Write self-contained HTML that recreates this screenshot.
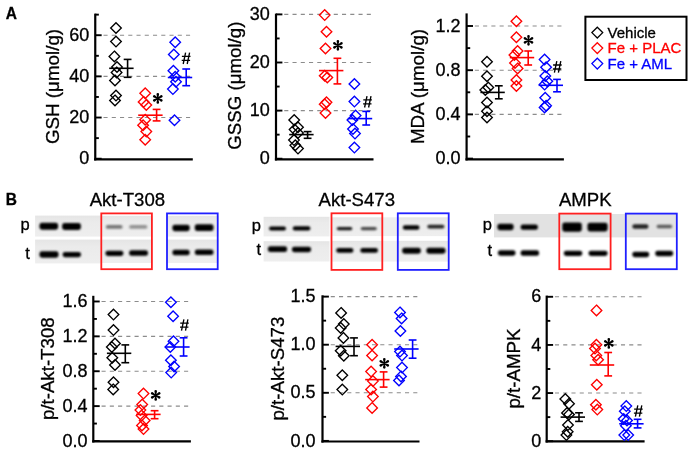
<!DOCTYPE html><html><head><meta charset="utf-8"><style>html,body{margin:0;padding:0;background:#fff;overflow:hidden}svg{display:block;filter:blur(0.35px)}text{stroke-width:0.3px}</style></head><body>
<svg width="689" height="449" viewBox="0 0 689 449" font-family='"Liberation Sans", sans-serif'>
<defs><filter id="bl" x="-20%" y="-80%" width="140%" height="260%"><feGaussianBlur stdDeviation="0.85"/></filter><linearGradient id="pg" x1="0" y1="0" x2="0" y2="1"><stop offset="0" stop-color="#e5e5e5"/><stop offset="0.3" stop-color="#ebebeb"/><stop offset="1" stop-color="#eeeeee"/></linearGradient></defs>
<rect width="689" height="449" fill="#fff"/>
<text x="0" y="0" font-size="15.5" font-weight="bold" stroke="#000" transform="translate(5.7 19.1) scale(1 1.1)">A</text>
<text x="0" y="0" font-size="15.5" font-weight="bold" stroke="#000" transform="translate(5.8 204.5) scale(1 1.1)">B</text>
<line x1="95.25" y1="117.54" x2="192.8" y2="117.54" stroke="#8c8c8c" stroke-width="1.1" stroke-dasharray="4.1 4.15"/>
<line x1="95.25" y1="76.38" x2="192.8" y2="76.38" stroke="#8c8c8c" stroke-width="1.1" stroke-dasharray="4.1 4.15"/>
<line x1="95.25" y1="35.22" x2="192.8" y2="35.22" stroke="#8c8c8c" stroke-width="1.1" stroke-dasharray="4.1 4.15"/>
<line x1="95.25" y1="13.6" x2="95.25" y2="160.45" stroke="#000" stroke-width="2.2"/>
<line x1="94.15" y1="159.35" x2="192.8" y2="159.35" stroke="#000" stroke-width="2.2"/>
<line x1="95.25" y1="158.7" x2="101.65" y2="158.7" stroke="#000" stroke-width="1.9"/>
<line x1="95.25" y1="117.54" x2="101.65" y2="117.54" stroke="#000" stroke-width="1.9"/>
<line x1="95.25" y1="76.38" x2="101.65" y2="76.38" stroke="#000" stroke-width="1.9"/>
<line x1="95.25" y1="35.22" x2="101.65" y2="35.22" stroke="#000" stroke-width="1.9"/>
<line x1="95.25" y1="138.12" x2="98.85" y2="138.12" stroke="#000" stroke-width="1.9"/>
<line x1="95.25" y1="96.96" x2="98.85" y2="96.96" stroke="#000" stroke-width="1.9"/>
<line x1="95.25" y1="55.8" x2="98.85" y2="55.8" stroke="#000" stroke-width="1.9"/>
<line x1="95.25" y1="14.64" x2="98.85" y2="14.64" stroke="#000" stroke-width="1.9"/>
<text x="89.35" y="164.3" font-size="18" text-anchor="end" fill="#000" stroke="#000" font-weight="normal" >0</text>
<text x="89.35" y="123.14" font-size="18" text-anchor="end" fill="#000" stroke="#000" font-weight="normal" >20</text>
<text x="89.35" y="81.98" font-size="18" text-anchor="end" fill="#000" stroke="#000" font-weight="normal" >40</text>
<text x="89.35" y="40.82" font-size="18" text-anchor="end" fill="#000" stroke="#000" font-weight="normal" >60</text>
<text x="0" y="0" font-size="18.8" text-anchor="middle" stroke="#000" transform="translate(58.9 86.5) rotate(-90)">GSH (μmol/g)</text>
<path d="M116 22.7L121.3 28L116 33.3L110.7 28Z" fill="none" stroke="#000" stroke-width="1.35"/>
<path d="M116 36.3L121.3 41.6L116 46.9L110.7 41.6Z" fill="none" stroke="#000" stroke-width="1.35"/>
<path d="M114.4 51.1L119.7 56.4L114.4 61.7L109.1 56.4Z" fill="none" stroke="#000" stroke-width="1.35"/>
<path d="M117 61.7L122.3 67L117 72.3L111.7 67Z" fill="none" stroke="#000" stroke-width="1.35"/>
<path d="M116.6 67.1L121.9 72.4L116.6 77.7L111.3 72.4Z" fill="none" stroke="#000" stroke-width="1.35"/>
<path d="M115 75.1L120.3 80.4L115 85.7L109.7 80.4Z" fill="none" stroke="#000" stroke-width="1.35"/>
<path d="M116 90.3L121.3 95.6L116 100.9L110.7 95.6Z" fill="none" stroke="#000" stroke-width="1.35"/>
<path d="M115 95.1L120.3 100.4L115 105.7L109.7 100.4Z" fill="none" stroke="#000" stroke-width="1.35"/>
<line x1="109.2" y1="68.3" x2="133.6" y2="68.3" stroke="#000" stroke-width="1.6"/>
<line x1="127.6" y1="59.4" x2="127.6" y2="77.3" stroke="#000" stroke-width="1.6"/>
<line x1="123.7" y1="59.4" x2="131.5" y2="59.4" stroke="#000" stroke-width="1.6"/>
<line x1="123.7" y1="77.3" x2="131.5" y2="77.3" stroke="#000" stroke-width="1.6"/>
<path d="M145.2 88L150.5 93.3L145.2 98.6L139.9 93.3Z" fill="none" stroke="#ff0000" stroke-width="1.35"/>
<path d="M143.6 96.6L148.9 101.9L143.6 107.2L138.3 101.9Z" fill="none" stroke="#ff0000" stroke-width="1.35"/>
<path d="M146.3 99.7L151.6 105L146.3 110.3L141 105Z" fill="none" stroke="#ff0000" stroke-width="1.35"/>
<path d="M145.2 114.5L150.5 119.8L145.2 125.1L139.9 119.8Z" fill="none" stroke="#ff0000" stroke-width="1.35"/>
<path d="M143.1 120L148.4 125.3L143.1 130.6L137.8 125.3Z" fill="none" stroke="#ff0000" stroke-width="1.35"/>
<path d="M146.3 126.3L151.6 131.6L146.3 136.9L141 131.6Z" fill="none" stroke="#ff0000" stroke-width="1.35"/>
<path d="M145.2 134.4L150.5 139.7L145.2 145L139.9 139.7Z" fill="none" stroke="#ff0000" stroke-width="1.35"/>
<line x1="138.2" y1="115.2" x2="162.6" y2="115.2" stroke="#ff0000" stroke-width="1.6"/>
<line x1="156.6" y1="109.4" x2="156.6" y2="120.9" stroke="#ff0000" stroke-width="1.6"/>
<line x1="152.7" y1="109.4" x2="160.5" y2="109.4" stroke="#ff0000" stroke-width="1.6"/>
<line x1="152.7" y1="120.9" x2="160.5" y2="120.9" stroke="#ff0000" stroke-width="1.6"/>
<path d="M175.2 37L180.5 42.3L175.2 47.6L169.9 42.3Z" fill="none" stroke="#0000ff" stroke-width="1.35"/>
<path d="M173.8 49.2L179.1 54.5L173.8 59.8L168.5 54.5Z" fill="none" stroke="#0000ff" stroke-width="1.35"/>
<path d="M173.4 65.5L178.7 70.8L173.4 76.1L168.1 70.8Z" fill="none" stroke="#0000ff" stroke-width="1.35"/>
<path d="M175.2 71.5L180.5 76.8L175.2 82.1L169.9 76.8Z" fill="none" stroke="#0000ff" stroke-width="1.35"/>
<path d="M176 76.4L181.3 81.7L176 87L170.7 81.7Z" fill="none" stroke="#0000ff" stroke-width="1.35"/>
<path d="M172.9 83.8L178.2 89.1L172.9 94.4L167.6 89.1Z" fill="none" stroke="#0000ff" stroke-width="1.35"/>
<path d="M174.5 115L179.8 120.3L174.5 125.6L169.2 120.3Z" fill="none" stroke="#0000ff" stroke-width="1.35"/>
<line x1="167.8" y1="77.5" x2="192.2" y2="77.5" stroke="#0000ff" stroke-width="1.6"/>
<line x1="186.2" y1="69" x2="186.2" y2="85.7" stroke="#0000ff" stroke-width="1.6"/>
<line x1="182.3" y1="69" x2="190.1" y2="69" stroke="#0000ff" stroke-width="1.6"/>
<line x1="182.3" y1="85.7" x2="190.1" y2="85.7" stroke="#0000ff" stroke-width="1.6"/>
<path d="M158.25 98.4L159.1 94.35A1.3 1.3 0 1 0 156.5 94.35L157.35 98.4ZM158.03 98.79L161.96 97.5A1.3 1.3 0 1 0 160.66 95.25L157.58 98.01ZM157.58 98.79L160.66 101.55A1.3 1.3 0 1 0 161.96 99.3L158.03 98.01ZM157.35 98.4L156.5 102.45A1.3 1.3 0 1 0 159.1 102.45L158.25 98.4ZM158.03 98.01L154.94 95.25A1.3 1.3 0 1 0 153.64 97.5L157.58 98.79ZM157.58 98.01L153.64 99.3A1.3 1.3 0 1 0 154.94 101.55L158.03 98.79Z" fill="#000"/>
<path d="M185.6 52.6L183.2 64M189.6 52.6L187.2 64M181.9 56.4L190.5 56.4M181.7 60.4L190.1 60.4" stroke="#000" stroke-width="1.35" fill="none"/>
<line x1="276" y1="110.6" x2="373.5" y2="110.6" stroke="#8c8c8c" stroke-width="1.1" stroke-dasharray="4.1 4.15"/>
<line x1="276" y1="62.5" x2="373.5" y2="62.5" stroke="#8c8c8c" stroke-width="1.1" stroke-dasharray="4.1 4.15"/>
<line x1="276" y1="14.4" x2="373.5" y2="14.4" stroke="#8c8c8c" stroke-width="1.1" stroke-dasharray="4.1 4.15"/>
<line x1="276" y1="13.6" x2="276" y2="160.45" stroke="#000" stroke-width="2.2"/>
<line x1="274.9" y1="159.35" x2="373.5" y2="159.35" stroke="#000" stroke-width="2.2"/>
<line x1="276" y1="158.7" x2="282.4" y2="158.7" stroke="#000" stroke-width="1.9"/>
<line x1="276" y1="110.6" x2="282.4" y2="110.6" stroke="#000" stroke-width="1.9"/>
<line x1="276" y1="62.5" x2="282.4" y2="62.5" stroke="#000" stroke-width="1.9"/>
<line x1="276" y1="14.4" x2="282.4" y2="14.4" stroke="#000" stroke-width="1.9"/>
<line x1="276" y1="134.65" x2="279.6" y2="134.65" stroke="#000" stroke-width="1.9"/>
<line x1="276" y1="86.55" x2="279.6" y2="86.55" stroke="#000" stroke-width="1.9"/>
<line x1="276" y1="38.45" x2="279.6" y2="38.45" stroke="#000" stroke-width="1.9"/>
<text x="269.7" y="164.3" font-size="18" text-anchor="end" fill="#000" stroke="#000" font-weight="normal" >0</text>
<text x="269.7" y="116.2" font-size="18" text-anchor="end" fill="#000" stroke="#000" font-weight="normal" >10</text>
<text x="269.7" y="68.1" font-size="18" text-anchor="end" fill="#000" stroke="#000" font-weight="normal" >20</text>
<text x="269.7" y="20" font-size="18" text-anchor="end" fill="#000" stroke="#000" font-weight="normal" >30</text>
<text x="0" y="0" font-size="18.7" text-anchor="middle" stroke="#000" transform="translate(240.8 85.7) rotate(-90)">GSSG (μmol/g)</text>
<path d="M294.2 114.7L299.5 120L294.2 125.3L288.9 120Z" fill="none" stroke="#000" stroke-width="1.35"/>
<path d="M298 122L303.3 127.3L298 132.6L292.7 127.3Z" fill="none" stroke="#000" stroke-width="1.35"/>
<path d="M294.6 124.3L299.9 129.6L294.6 134.9L289.3 129.6Z" fill="none" stroke="#000" stroke-width="1.35"/>
<path d="M298 127.7L303.3 133L298 138.3L292.7 133Z" fill="none" stroke="#000" stroke-width="1.35"/>
<path d="M294 134.8L299.3 140.1L294 145.4L288.7 140.1Z" fill="none" stroke="#000" stroke-width="1.35"/>
<path d="M295.3 140L300.6 145.3L295.3 150.6L290 145.3Z" fill="none" stroke="#000" stroke-width="1.35"/>
<path d="M298 143.3L303.3 148.6L298 153.9L292.7 148.6Z" fill="none" stroke="#000" stroke-width="1.35"/>
<line x1="289.2" y1="134.6" x2="313.6" y2="134.6" stroke="#000" stroke-width="1.6"/>
<line x1="307.6" y1="131.6" x2="307.6" y2="138.3" stroke="#000" stroke-width="1.6"/>
<line x1="303.7" y1="131.6" x2="311.5" y2="131.6" stroke="#000" stroke-width="1.6"/>
<line x1="303.7" y1="138.3" x2="311.5" y2="138.3" stroke="#000" stroke-width="1.6"/>
<path d="M324.7 9.8L330 15.1L324.7 20.4L319.4 15.1Z" fill="none" stroke="#ff0000" stroke-width="1.35"/>
<path d="M326.5 26.4L331.8 31.7L326.5 37L321.2 31.7Z" fill="none" stroke="#ff0000" stroke-width="1.35"/>
<path d="M325.5 43.2L330.8 48.5L325.5 53.8L320.2 48.5Z" fill="none" stroke="#ff0000" stroke-width="1.35"/>
<path d="M324.7 70.4L330 75.7L324.7 81L319.4 75.7Z" fill="none" stroke="#ff0000" stroke-width="1.35"/>
<path d="M327.3 72.2L332.6 77.5L327.3 82.8L322 77.5Z" fill="none" stroke="#ff0000" stroke-width="1.35"/>
<path d="M326.5 97L331.8 102.3L326.5 107.6L321.2 102.3Z" fill="none" stroke="#ff0000" stroke-width="1.35"/>
<path d="M324.7 98.9L330 104.2L324.7 109.5L319.4 104.2Z" fill="none" stroke="#ff0000" stroke-width="1.35"/>
<path d="M325.5 107.7L330.8 113L325.5 118.3L320.2 113Z" fill="none" stroke="#ff0000" stroke-width="1.35"/>
<line x1="319" y1="70.6" x2="343.4" y2="70.6" stroke="#ff0000" stroke-width="1.6"/>
<line x1="337.4" y1="58.3" x2="337.4" y2="83.9" stroke="#ff0000" stroke-width="1.6"/>
<line x1="333.5" y1="58.3" x2="341.3" y2="58.3" stroke="#ff0000" stroke-width="1.6"/>
<line x1="333.5" y1="83.9" x2="341.3" y2="83.9" stroke="#ff0000" stroke-width="1.6"/>
<path d="M354.4 78.7L359.7 84L354.4 89.3L349.1 84Z" fill="none" stroke="#0000ff" stroke-width="1.35"/>
<path d="M354.4 96.3L359.7 101.6L354.4 106.9L349.1 101.6Z" fill="none" stroke="#0000ff" stroke-width="1.35"/>
<path d="M355.6 110.3L360.9 115.6L355.6 120.9L350.3 115.6Z" fill="none" stroke="#0000ff" stroke-width="1.35"/>
<path d="M352.4 114.7L357.7 120L352.4 125.3L347.1 120Z" fill="none" stroke="#0000ff" stroke-width="1.35"/>
<path d="M353 123.7L358.3 129L353 134.3L347.7 129Z" fill="none" stroke="#0000ff" stroke-width="1.35"/>
<path d="M355 128.3L360.3 133.6L355 138.9L349.7 133.6Z" fill="none" stroke="#0000ff" stroke-width="1.35"/>
<path d="M354.4 142.3L359.7 147.6L354.4 152.9L349.1 147.6Z" fill="none" stroke="#0000ff" stroke-width="1.35"/>
<line x1="347.8" y1="118.6" x2="372.2" y2="118.6" stroke="#0000ff" stroke-width="1.6"/>
<line x1="366.2" y1="111.4" x2="366.2" y2="125" stroke="#0000ff" stroke-width="1.6"/>
<line x1="362.3" y1="111.4" x2="370.1" y2="111.4" stroke="#0000ff" stroke-width="1.6"/>
<line x1="362.3" y1="125" x2="370.1" y2="125" stroke="#0000ff" stroke-width="1.6"/>
<path d="M338.35 45.3L339.2 41.25A1.3 1.3 0 1 0 336.6 41.25L337.45 45.3ZM338.12 45.69L342.06 44.4A1.3 1.3 0 1 0 340.76 42.15L337.67 44.91ZM337.67 45.69L340.76 48.45A1.3 1.3 0 1 0 342.06 46.2L338.12 44.91ZM337.45 45.3L336.6 49.35A1.3 1.3 0 1 0 339.2 49.35L338.35 45.3ZM338.12 44.91L335.04 42.15A1.3 1.3 0 1 0 333.74 44.4L337.67 45.69ZM337.67 44.91L333.74 46.2A1.3 1.3 0 1 0 335.04 48.45L338.12 45.69Z" fill="#000"/>
<path d="M367 96.1L364.6 107.5M371 96.1L368.6 107.5M363.3 99.9L371.9 99.9M363.1 103.9L371.5 103.9" stroke="#000" stroke-width="1.35" fill="none"/>
<line x1="466.6" y1="114.4" x2="563.9" y2="114.4" stroke="#8c8c8c" stroke-width="1.1" stroke-dasharray="4.1 4.15"/>
<line x1="466.6" y1="70.2" x2="563.9" y2="70.2" stroke="#8c8c8c" stroke-width="1.1" stroke-dasharray="4.1 4.15"/>
<line x1="466.6" y1="26" x2="563.9" y2="26" stroke="#8c8c8c" stroke-width="1.1" stroke-dasharray="4.1 4.15"/>
<line x1="466.6" y1="13.4" x2="466.6" y2="160.45" stroke="#000" stroke-width="2.2"/>
<line x1="465.5" y1="159.35" x2="563.9" y2="159.35" stroke="#000" stroke-width="2.2"/>
<line x1="466.6" y1="158.6" x2="473" y2="158.6" stroke="#000" stroke-width="1.9"/>
<line x1="466.6" y1="114.4" x2="473" y2="114.4" stroke="#000" stroke-width="1.9"/>
<line x1="466.6" y1="70.2" x2="473" y2="70.2" stroke="#000" stroke-width="1.9"/>
<line x1="466.6" y1="26" x2="473" y2="26" stroke="#000" stroke-width="1.9"/>
<line x1="466.6" y1="136.5" x2="470.2" y2="136.5" stroke="#000" stroke-width="1.9"/>
<line x1="466.6" y1="92.3" x2="470.2" y2="92.3" stroke="#000" stroke-width="1.9"/>
<line x1="466.6" y1="48.1" x2="470.2" y2="48.1" stroke="#000" stroke-width="1.9"/>
<text x="460.5" y="164.2" font-size="18" text-anchor="end" fill="#000" stroke="#000" font-weight="normal" >0.0</text>
<text x="460.5" y="120" font-size="18" text-anchor="end" fill="#000" stroke="#000" font-weight="normal" >0.4</text>
<text x="460.5" y="75.8" font-size="18" text-anchor="end" fill="#000" stroke="#000" font-weight="normal" >0.8</text>
<text x="460.5" y="31.6" font-size="18" text-anchor="end" fill="#000" stroke="#000" font-weight="normal" >1.2</text>
<text x="0" y="0" font-size="18.8" text-anchor="middle" stroke="#000" transform="translate(423.9 86.5) rotate(-90)">MDA (μmol/g)</text>
<path d="M487 56.4L492.3 61.7L487 67L481.7 61.7Z" fill="none" stroke="#000" stroke-width="1.35"/>
<path d="M487 71L492.3 76.3L487 81.6L481.7 76.3Z" fill="none" stroke="#000" stroke-width="1.35"/>
<path d="M488.3 82.2L493.6 87.5L488.3 92.8L483 87.5Z" fill="none" stroke="#000" stroke-width="1.35"/>
<path d="M485.3 84.7L490.6 90L485.3 95.3L480 90Z" fill="none" stroke="#000" stroke-width="1.35"/>
<path d="M487 97.2L492.3 102.5L487 107.8L481.7 102.5Z" fill="none" stroke="#000" stroke-width="1.35"/>
<path d="M487 106L492.3 111.3L487 116.6L481.7 111.3Z" fill="none" stroke="#000" stroke-width="1.35"/>
<path d="M487 112.2L492.3 117.5L487 122.8L481.7 117.5Z" fill="none" stroke="#000" stroke-width="1.35"/>
<line x1="480.4" y1="92.4" x2="504.8" y2="92.4" stroke="#000" stroke-width="1.6"/>
<line x1="498.8" y1="85.8" x2="498.8" y2="98.8" stroke="#000" stroke-width="1.6"/>
<line x1="494.9" y1="85.8" x2="502.7" y2="85.8" stroke="#000" stroke-width="1.6"/>
<line x1="494.9" y1="98.8" x2="502.7" y2="98.8" stroke="#000" stroke-width="1.6"/>
<path d="M516.4 15.9L521.7 21.2L516.4 26.5L511.1 21.2Z" fill="none" stroke="#ff0000" stroke-width="1.35"/>
<path d="M516.4 32L521.7 37.3L516.4 42.6L511.1 37.3Z" fill="none" stroke="#ff0000" stroke-width="1.35"/>
<path d="M517.6 45.7L522.9 51L517.6 56.3L512.3 51Z" fill="none" stroke="#ff0000" stroke-width="1.35"/>
<path d="M514.4 49.7L519.7 55L514.4 60.3L509.1 55Z" fill="none" stroke="#ff0000" stroke-width="1.35"/>
<path d="M515 57.7L520.3 63L515 68.3L509.7 63Z" fill="none" stroke="#ff0000" stroke-width="1.35"/>
<path d="M517.6 63.1L522.9 68.4L517.6 73.7L512.3 68.4Z" fill="none" stroke="#ff0000" stroke-width="1.35"/>
<path d="M516.4 74.7L521.7 80L516.4 85.3L511.1 80Z" fill="none" stroke="#ff0000" stroke-width="1.35"/>
<path d="M516.4 80.7L521.7 86L516.4 91.3L511.1 86Z" fill="none" stroke="#ff0000" stroke-width="1.35"/>
<line x1="509.8" y1="57.6" x2="534.2" y2="57.6" stroke="#ff0000" stroke-width="1.6"/>
<line x1="528.2" y1="51" x2="528.2" y2="65" stroke="#ff0000" stroke-width="1.6"/>
<line x1="524.3" y1="51" x2="532.1" y2="51" stroke="#ff0000" stroke-width="1.6"/>
<line x1="524.3" y1="65" x2="532.1" y2="65" stroke="#ff0000" stroke-width="1.6"/>
<path d="M544.6 54.3L549.9 59.6L544.6 64.9L539.3 59.6Z" fill="none" stroke="#0000ff" stroke-width="1.35"/>
<path d="M546.1 62L551.4 67.3L546.1 72.6L540.8 67.3Z" fill="none" stroke="#0000ff" stroke-width="1.35"/>
<path d="M545.3 70.7L550.6 76L545.3 81.3L540 76Z" fill="none" stroke="#0000ff" stroke-width="1.35"/>
<path d="M547.3 76L552.6 81.3L547.3 86.6L542 81.3Z" fill="none" stroke="#0000ff" stroke-width="1.35"/>
<path d="M544.6 79.3L549.9 84.6L544.6 89.9L539.3 84.6Z" fill="none" stroke="#0000ff" stroke-width="1.35"/>
<path d="M545.2 92.4L550.5 97.7L545.2 103L539.9 97.7Z" fill="none" stroke="#0000ff" stroke-width="1.35"/>
<path d="M546.1 100.4L551.4 105.7L546.1 111L540.8 105.7Z" fill="none" stroke="#0000ff" stroke-width="1.35"/>
<path d="M544.6 102.2L549.9 107.5L544.6 112.8L539.3 107.5Z" fill="none" stroke="#0000ff" stroke-width="1.35"/>
<line x1="538.6" y1="85.3" x2="563" y2="85.3" stroke="#0000ff" stroke-width="1.6"/>
<line x1="557" y1="79.4" x2="557" y2="91.8" stroke="#0000ff" stroke-width="1.6"/>
<line x1="553.1" y1="79.4" x2="560.9" y2="79.4" stroke="#0000ff" stroke-width="1.6"/>
<line x1="553.1" y1="91.8" x2="560.9" y2="91.8" stroke="#0000ff" stroke-width="1.6"/>
<path d="M528.95 40.3L529.8 36.25A1.3 1.3 0 1 0 527.2 36.25L528.05 40.3ZM528.73 40.69L532.66 39.4A1.3 1.3 0 1 0 531.36 37.15L528.27 39.91ZM528.27 40.69L531.36 43.45A1.3 1.3 0 1 0 532.66 41.2L528.73 39.91ZM528.05 40.3L527.2 44.35A1.3 1.3 0 1 0 529.8 44.35L528.95 40.3ZM528.73 39.91L525.64 37.15A1.3 1.3 0 1 0 524.34 39.4L528.27 40.69ZM528.27 39.91L524.34 41.2A1.3 1.3 0 1 0 525.64 43.45L528.73 40.69Z" fill="#000"/>
<path d="M556.8 61.2L554.4 72.6M560.8 61.2L558.4 72.6M553.1 65L561.7 65M552.9 69L561.3 69" stroke="#000" stroke-width="1.35" fill="none"/>
<line x1="93.3" y1="406.12" x2="190.9" y2="406.12" stroke="#8c8c8c" stroke-width="1.1" stroke-dasharray="4.1 4.15"/>
<line x1="93.3" y1="371.24" x2="190.9" y2="371.24" stroke="#8c8c8c" stroke-width="1.1" stroke-dasharray="4.1 4.15"/>
<line x1="93.3" y1="336.36" x2="190.9" y2="336.36" stroke="#8c8c8c" stroke-width="1.1" stroke-dasharray="4.1 4.15"/>
<line x1="93.3" y1="301.48" x2="190.9" y2="301.48" stroke="#8c8c8c" stroke-width="1.1" stroke-dasharray="4.1 4.15"/>
<line x1="93.3" y1="295.8" x2="93.3" y2="442.5" stroke="#000" stroke-width="2.2"/>
<line x1="92.2" y1="441.4" x2="190.9" y2="441.4" stroke="#000" stroke-width="2.2"/>
<line x1="93.3" y1="441" x2="99.7" y2="441" stroke="#000" stroke-width="1.9"/>
<line x1="93.3" y1="406.12" x2="99.7" y2="406.12" stroke="#000" stroke-width="1.9"/>
<line x1="93.3" y1="371.24" x2="99.7" y2="371.24" stroke="#000" stroke-width="1.9"/>
<line x1="93.3" y1="336.36" x2="99.7" y2="336.36" stroke="#000" stroke-width="1.9"/>
<line x1="93.3" y1="301.48" x2="99.7" y2="301.48" stroke="#000" stroke-width="1.9"/>
<line x1="93.3" y1="423.56" x2="96.9" y2="423.56" stroke="#000" stroke-width="1.9"/>
<line x1="93.3" y1="388.68" x2="96.9" y2="388.68" stroke="#000" stroke-width="1.9"/>
<line x1="93.3" y1="353.8" x2="96.9" y2="353.8" stroke="#000" stroke-width="1.9"/>
<line x1="93.3" y1="318.92" x2="96.9" y2="318.92" stroke="#000" stroke-width="1.9"/>
<text x="87.5" y="446.6" font-size="18" text-anchor="end" fill="#000" stroke="#000" font-weight="normal" >0.0</text>
<text x="87.5" y="411.72" font-size="18" text-anchor="end" fill="#000" stroke="#000" font-weight="normal" >0.4</text>
<text x="87.5" y="376.84" font-size="18" text-anchor="end" fill="#000" stroke="#000" font-weight="normal" >0.8</text>
<text x="87.5" y="341.96" font-size="18" text-anchor="end" fill="#000" stroke="#000" font-weight="normal" >1.2</text>
<text x="87.5" y="307.08" font-size="18" text-anchor="end" fill="#000" stroke="#000" font-weight="normal" >1.6</text>
<text x="0" y="0" font-size="18.7" text-anchor="middle" stroke="#000" transform="translate(54.2 368.7) rotate(-90)">p/t-Akt-T308</text>
<path d="M113.5 309.3L118.8 314.6L113.5 319.9L108.2 314.6Z" fill="none" stroke="#000" stroke-width="1.35"/>
<path d="M113.5 324.8L118.8 330.1L113.5 335.4L108.2 330.1Z" fill="none" stroke="#000" stroke-width="1.35"/>
<path d="M115 338.2L120.3 343.5L115 348.8L109.7 343.5Z" fill="none" stroke="#000" stroke-width="1.35"/>
<path d="M111.8 341.7L117.1 347L111.8 352.3L106.5 347Z" fill="none" stroke="#000" stroke-width="1.35"/>
<path d="M112.3 352.4L117.6 357.7L112.3 363L107 357.7Z" fill="none" stroke="#000" stroke-width="1.35"/>
<path d="M115 359.6L120.3 364.9L115 370.2L109.7 364.9Z" fill="none" stroke="#000" stroke-width="1.35"/>
<path d="M113.5 377L118.8 382.3L113.5 387.6L108.2 382.3Z" fill="none" stroke="#000" stroke-width="1.35"/>
<path d="M113.2 384.1L118.5 389.4L113.2 394.7L107.9 389.4Z" fill="none" stroke="#000" stroke-width="1.35"/>
<line x1="106.9" y1="353.3" x2="131.3" y2="353.3" stroke="#000" stroke-width="1.6"/>
<line x1="125.3" y1="344.9" x2="125.3" y2="362.7" stroke="#000" stroke-width="1.6"/>
<line x1="121.4" y1="344.9" x2="129.2" y2="344.9" stroke="#000" stroke-width="1.6"/>
<line x1="121.4" y1="362.7" x2="129.2" y2="362.7" stroke="#000" stroke-width="1.6"/>
<path d="M143.5 388.3L148.8 393.6L143.5 398.9L138.2 393.6Z" fill="none" stroke="#ff0000" stroke-width="1.35"/>
<path d="M142.2 399.3L147.5 404.6L142.2 409.9L136.9 404.6Z" fill="none" stroke="#ff0000" stroke-width="1.35"/>
<path d="M140.4 404.8L145.7 410.1L140.4 415.4L135.1 410.1Z" fill="none" stroke="#ff0000" stroke-width="1.35"/>
<path d="M141.6 410.3L146.9 415.6L141.6 420.9L136.3 415.6Z" fill="none" stroke="#ff0000" stroke-width="1.35"/>
<path d="M144.7 415.2L150 420.5L144.7 425.8L139.4 420.5Z" fill="none" stroke="#ff0000" stroke-width="1.35"/>
<path d="M142 420.1L147.3 425.4L142 430.7L136.7 425.4Z" fill="none" stroke="#ff0000" stroke-width="1.35"/>
<path d="M143.5 423.8L148.8 429.1L143.5 434.4L138.2 429.1Z" fill="none" stroke="#ff0000" stroke-width="1.35"/>
<line x1="136.2" y1="414.4" x2="160.6" y2="414.4" stroke="#ff0000" stroke-width="1.6"/>
<line x1="154.6" y1="410.7" x2="154.6" y2="418.7" stroke="#ff0000" stroke-width="1.6"/>
<line x1="150.7" y1="410.7" x2="158.5" y2="410.7" stroke="#ff0000" stroke-width="1.6"/>
<line x1="150.7" y1="418.7" x2="158.5" y2="418.7" stroke="#ff0000" stroke-width="1.6"/>
<path d="M170.9 296.9L176.2 302.2L170.9 307.5L165.6 302.2Z" fill="none" stroke="#0000ff" stroke-width="1.35"/>
<path d="M173.1 310.9L178.4 316.2L173.1 321.5L167.8 316.2Z" fill="none" stroke="#0000ff" stroke-width="1.35"/>
<path d="M173.5 336L178.8 341.3L173.5 346.6L168.2 341.3Z" fill="none" stroke="#0000ff" stroke-width="1.35"/>
<path d="M170.3 341.7L175.6 347L170.3 352.3L165 347Z" fill="none" stroke="#0000ff" stroke-width="1.35"/>
<path d="M170.9 355L176.2 360.3L170.9 365.6L165.6 360.3Z" fill="none" stroke="#0000ff" stroke-width="1.35"/>
<path d="M174.1 361.2L179.4 366.5L174.1 371.8L168.8 366.5Z" fill="none" stroke="#0000ff" stroke-width="1.35"/>
<path d="M171.2 367.3L176.5 372.6L171.2 377.9L165.9 372.6Z" fill="none" stroke="#0000ff" stroke-width="1.35"/>
<line x1="165.2" y1="347" x2="189.6" y2="347" stroke="#0000ff" stroke-width="1.6"/>
<line x1="183.6" y1="337.8" x2="183.6" y2="356" stroke="#0000ff" stroke-width="1.6"/>
<line x1="179.7" y1="337.8" x2="187.5" y2="337.8" stroke="#0000ff" stroke-width="1.6"/>
<line x1="179.7" y1="356" x2="187.5" y2="356" stroke="#0000ff" stroke-width="1.6"/>
<path d="M156.15 395.4L157 391.35A1.3 1.3 0 1 0 154.4 391.35L155.25 395.4ZM155.92 395.79L159.86 394.5A1.3 1.3 0 1 0 158.56 392.25L155.47 395.01ZM155.47 395.79L158.56 398.55A1.3 1.3 0 1 0 159.86 396.3L155.92 395.01ZM155.25 395.4L154.4 399.45A1.3 1.3 0 1 0 157 399.45L156.15 395.4ZM155.92 395.01L152.84 392.25A1.3 1.3 0 1 0 151.54 394.5L155.47 395.79ZM155.47 395.01L151.54 396.3A1.3 1.3 0 1 0 152.84 398.55L155.92 395.79Z" fill="#000"/>
<path d="M183.9 319.3L181.5 330.7M187.9 319.3L185.5 330.7M180.2 323.1L188.8 323.1M180 327.1L188.4 327.1" stroke="#000" stroke-width="1.35" fill="none"/>
<line x1="322.5" y1="392.8" x2="419.5" y2="392.8" stroke="#8c8c8c" stroke-width="1.1" stroke-dasharray="4.1 4.15"/>
<line x1="322.5" y1="344.7" x2="419.5" y2="344.7" stroke="#8c8c8c" stroke-width="1.1" stroke-dasharray="4.1 4.15"/>
<line x1="322.5" y1="296.6" x2="419.5" y2="296.6" stroke="#8c8c8c" stroke-width="1.1" stroke-dasharray="4.1 4.15"/>
<line x1="322.5" y1="295.3" x2="322.5" y2="442.6" stroke="#000" stroke-width="2.2"/>
<line x1="321.4" y1="441.5" x2="419.5" y2="441.5" stroke="#000" stroke-width="2.2"/>
<line x1="322.5" y1="440.9" x2="328.9" y2="440.9" stroke="#000" stroke-width="1.9"/>
<line x1="322.5" y1="392.8" x2="328.9" y2="392.8" stroke="#000" stroke-width="1.9"/>
<line x1="322.5" y1="344.7" x2="328.9" y2="344.7" stroke="#000" stroke-width="1.9"/>
<line x1="322.5" y1="296.6" x2="328.9" y2="296.6" stroke="#000" stroke-width="1.9"/>
<line x1="322.5" y1="416.85" x2="326.1" y2="416.85" stroke="#000" stroke-width="1.9"/>
<line x1="322.5" y1="368.75" x2="326.1" y2="368.75" stroke="#000" stroke-width="1.9"/>
<line x1="322.5" y1="320.65" x2="326.1" y2="320.65" stroke="#000" stroke-width="1.9"/>
<text x="315.5" y="446.5" font-size="18" text-anchor="end" fill="#000" stroke="#000" font-weight="normal" >0.0</text>
<text x="315.5" y="398.4" font-size="18" text-anchor="end" fill="#000" stroke="#000" font-weight="normal" >0.5</text>
<text x="315.5" y="350.3" font-size="18" text-anchor="end" fill="#000" stroke="#000" font-weight="normal" >1.0</text>
<text x="315.5" y="302.2" font-size="18" text-anchor="end" fill="#000" stroke="#000" font-weight="normal" >1.5</text>
<text x="0" y="0" font-size="18.7" text-anchor="middle" stroke="#000" transform="translate(284 368.6) rotate(-90)">p/t-Akt-S473</text>
<path d="M341.1 307.6L346.4 312.9L341.1 318.2L335.8 312.9Z" fill="none" stroke="#000" stroke-width="1.35"/>
<path d="M343.8 318.8L349.1 324.1L343.8 329.4L338.5 324.1Z" fill="none" stroke="#000" stroke-width="1.35"/>
<path d="M340.7 322.6L346 327.9L340.7 333.2L335.4 327.9Z" fill="none" stroke="#000" stroke-width="1.35"/>
<path d="M343.4 332.6L348.7 337.9L343.4 343.2L338.1 337.9Z" fill="none" stroke="#000" stroke-width="1.35"/>
<path d="M340.7 345.5L346 350.8L340.7 356.1L335.4 350.8Z" fill="none" stroke="#000" stroke-width="1.35"/>
<path d="M343.8 350.4L349.1 355.7L343.8 361L338.5 355.7Z" fill="none" stroke="#000" stroke-width="1.35"/>
<path d="M342.3 370L347.6 375.3L342.3 380.6L337 375.3Z" fill="none" stroke="#000" stroke-width="1.35"/>
<path d="M342.3 384.3L347.6 389.6L342.3 394.9L337 389.6Z" fill="none" stroke="#000" stroke-width="1.35"/>
<line x1="335.6" y1="346.4" x2="360" y2="346.4" stroke="#000" stroke-width="1.6"/>
<line x1="354" y1="337.9" x2="354" y2="355.7" stroke="#000" stroke-width="1.6"/>
<line x1="350.1" y1="337.9" x2="357.9" y2="337.9" stroke="#000" stroke-width="1.6"/>
<line x1="350.1" y1="355.7" x2="357.9" y2="355.7" stroke="#000" stroke-width="1.6"/>
<path d="M372.1 339.5L377.4 344.8L372.1 350.1L366.8 344.8Z" fill="none" stroke="#ff0000" stroke-width="1.35"/>
<path d="M372.1 350.2L377.4 355.5L372.1 360.8L366.8 355.5Z" fill="none" stroke="#ff0000" stroke-width="1.35"/>
<path d="M371.1 366.3L376.4 371.6L371.1 376.9L365.8 371.6Z" fill="none" stroke="#ff0000" stroke-width="1.35"/>
<path d="M372.9 375.8L378.2 381.1L372.9 386.4L367.6 381.1Z" fill="none" stroke="#ff0000" stroke-width="1.35"/>
<path d="M371.1 384.2L376.4 389.5L371.1 394.8L365.8 389.5Z" fill="none" stroke="#ff0000" stroke-width="1.35"/>
<path d="M372.9 391.3L378.2 396.6L372.9 401.9L367.6 396.6Z" fill="none" stroke="#ff0000" stroke-width="1.35"/>
<path d="M372.1 402.6L377.4 407.9L372.1 413.2L366.8 407.9Z" fill="none" stroke="#ff0000" stroke-width="1.35"/>
<line x1="365.2" y1="379.6" x2="389.6" y2="379.6" stroke="#ff0000" stroke-width="1.6"/>
<line x1="383.6" y1="371.9" x2="383.6" y2="387.1" stroke="#ff0000" stroke-width="1.6"/>
<line x1="379.7" y1="371.9" x2="387.5" y2="371.9" stroke="#ff0000" stroke-width="1.6"/>
<line x1="379.7" y1="387.1" x2="387.5" y2="387.1" stroke="#ff0000" stroke-width="1.6"/>
<path d="M400 307.1L405.3 312.4L400 317.7L394.7 312.4Z" fill="none" stroke="#0000ff" stroke-width="1.35"/>
<path d="M401.6 313.1L406.9 318.4L401.6 323.7L396.3 318.4Z" fill="none" stroke="#0000ff" stroke-width="1.35"/>
<path d="M400.4 325.7L405.7 331L400.4 336.3L395.1 331Z" fill="none" stroke="#0000ff" stroke-width="1.35"/>
<path d="M400 346.3L405.3 351.6L400 356.9L394.7 351.6Z" fill="none" stroke="#0000ff" stroke-width="1.35"/>
<path d="M402 350.3L407.3 355.6L402 360.9L396.7 355.6Z" fill="none" stroke="#0000ff" stroke-width="1.35"/>
<path d="M402 362.3L407.3 367.6L402 372.9L396.7 367.6Z" fill="none" stroke="#0000ff" stroke-width="1.35"/>
<path d="M401 371.1L406.3 376.4L401 381.7L395.7 376.4Z" fill="none" stroke="#0000ff" stroke-width="1.35"/>
<path d="M399 375.1L404.3 380.4L399 385.7L393.7 380.4Z" fill="none" stroke="#0000ff" stroke-width="1.35"/>
<line x1="394.2" y1="349" x2="418.6" y2="349" stroke="#0000ff" stroke-width="1.6"/>
<line x1="412.6" y1="340" x2="412.6" y2="358.2" stroke="#0000ff" stroke-width="1.6"/>
<line x1="408.7" y1="340" x2="416.5" y2="340" stroke="#0000ff" stroke-width="1.6"/>
<line x1="408.7" y1="358.2" x2="416.5" y2="358.2" stroke="#0000ff" stroke-width="1.6"/>
<path d="M384.75 363.3L385.6 359.25A1.3 1.3 0 1 0 383 359.25L383.85 363.3ZM384.53 363.69L388.46 362.4A1.3 1.3 0 1 0 387.16 360.15L384.07 362.91ZM384.07 363.69L387.16 366.45A1.3 1.3 0 1 0 388.46 364.2L384.53 362.91ZM383.85 363.3L383 367.35A1.3 1.3 0 1 0 385.6 367.35L384.75 363.3ZM384.53 362.91L381.44 360.15A1.3 1.3 0 1 0 380.14 362.4L384.07 363.69ZM384.07 362.91L380.14 364.2A1.3 1.3 0 1 0 381.44 366.45L384.53 363.69Z" fill="#000"/>
<line x1="546.7" y1="393.06" x2="644.6" y2="393.06" stroke="#8c8c8c" stroke-width="1.1" stroke-dasharray="4.1 4.15"/>
<line x1="546.7" y1="344.92" x2="644.6" y2="344.92" stroke="#8c8c8c" stroke-width="1.1" stroke-dasharray="4.1 4.15"/>
<line x1="546.7" y1="296.78" x2="644.6" y2="296.78" stroke="#8c8c8c" stroke-width="1.1" stroke-dasharray="4.1 4.15"/>
<line x1="546.7" y1="295.6" x2="546.7" y2="442.55" stroke="#000" stroke-width="2.2"/>
<line x1="545.6" y1="441.45" x2="644.6" y2="441.45" stroke="#000" stroke-width="2.2"/>
<line x1="546.7" y1="441.2" x2="553.1" y2="441.2" stroke="#000" stroke-width="1.9"/>
<line x1="546.7" y1="393.06" x2="553.1" y2="393.06" stroke="#000" stroke-width="1.9"/>
<line x1="546.7" y1="344.92" x2="553.1" y2="344.92" stroke="#000" stroke-width="1.9"/>
<line x1="546.7" y1="296.78" x2="553.1" y2="296.78" stroke="#000" stroke-width="1.9"/>
<line x1="546.7" y1="417.13" x2="550.3" y2="417.13" stroke="#000" stroke-width="1.9"/>
<line x1="546.7" y1="368.99" x2="550.3" y2="368.99" stroke="#000" stroke-width="1.9"/>
<line x1="546.7" y1="320.85" x2="550.3" y2="320.85" stroke="#000" stroke-width="1.9"/>
<text x="541.3" y="446.8" font-size="18" text-anchor="end" fill="#000" stroke="#000" font-weight="normal" >0</text>
<text x="541.3" y="398.66" font-size="18" text-anchor="end" fill="#000" stroke="#000" font-weight="normal" >2</text>
<text x="541.3" y="350.52" font-size="18" text-anchor="end" fill="#000" stroke="#000" font-weight="normal" >4</text>
<text x="541.3" y="302.38" font-size="18" text-anchor="end" fill="#000" stroke="#000" font-weight="normal" >6</text>
<text x="0" y="0" font-size="18.7" text-anchor="middle" stroke="#000" transform="translate(519.9 368.6) rotate(-90)">p/t-AMPK</text>
<path d="M565.3 393.7L570.6 399L565.3 404.3L560 399Z" fill="none" stroke="#000" stroke-width="1.35"/>
<path d="M569 398.4L574.3 403.7L569 409L563.7 403.7Z" fill="none" stroke="#000" stroke-width="1.35"/>
<path d="M567 407.7L572.3 413L567 418.3L561.7 413Z" fill="none" stroke="#000" stroke-width="1.35"/>
<path d="M569 409.1L574.3 414.4L569 419.7L563.7 414.4Z" fill="none" stroke="#000" stroke-width="1.35"/>
<path d="M568 419.8L573.3 425.1L568 430.4L562.7 425.1Z" fill="none" stroke="#000" stroke-width="1.35"/>
<path d="M567.7 426.5L573 431.8L567.7 437.1L562.4 431.8Z" fill="none" stroke="#000" stroke-width="1.35"/>
<path d="M566.4 429.8L571.7 435.1L566.4 440.4L561.1 435.1Z" fill="none" stroke="#000" stroke-width="1.35"/>
<line x1="560.6" y1="417.1" x2="585" y2="417.1" stroke="#000" stroke-width="1.6"/>
<line x1="579" y1="412.8" x2="579" y2="421.4" stroke="#000" stroke-width="1.6"/>
<line x1="575.1" y1="412.8" x2="582.9" y2="412.8" stroke="#000" stroke-width="1.6"/>
<line x1="575.1" y1="421.4" x2="582.9" y2="421.4" stroke="#000" stroke-width="1.6"/>
<path d="M596.5 305.1L601.8 310.4L596.5 315.7L591.2 310.4Z" fill="none" stroke="#ff0000" stroke-width="1.35"/>
<path d="M596.4 339.4L601.7 344.7L596.4 350L591.1 344.7Z" fill="none" stroke="#ff0000" stroke-width="1.35"/>
<path d="M595 343.3L600.3 348.6L595 353.9L589.7 348.6Z" fill="none" stroke="#ff0000" stroke-width="1.35"/>
<path d="M596.3 350.2L601.6 355.5L596.3 360.8L591 355.5Z" fill="none" stroke="#ff0000" stroke-width="1.35"/>
<path d="M598.1 354.4L603.4 359.7L598.1 365L592.8 359.7Z" fill="none" stroke="#ff0000" stroke-width="1.35"/>
<path d="M596.8 379.4L602.1 384.7L596.8 390L591.5 384.7Z" fill="none" stroke="#ff0000" stroke-width="1.35"/>
<path d="M595.9 399.4L601.2 404.7L595.9 410L590.6 404.7Z" fill="none" stroke="#ff0000" stroke-width="1.35"/>
<path d="M597.3 404.3L602.6 409.6L597.3 414.9L592 409.6Z" fill="none" stroke="#ff0000" stroke-width="1.35"/>
<line x1="589.8" y1="365" x2="614.2" y2="365" stroke="#ff0000" stroke-width="1.6"/>
<line x1="608.2" y1="352.5" x2="608.2" y2="375.9" stroke="#ff0000" stroke-width="1.6"/>
<line x1="604.3" y1="352.5" x2="612.1" y2="352.5" stroke="#ff0000" stroke-width="1.6"/>
<line x1="604.3" y1="375.9" x2="612.1" y2="375.9" stroke="#ff0000" stroke-width="1.6"/>
<path d="M626.3 400.8L631.6 406.1L626.3 411.4L621 406.1Z" fill="none" stroke="#0000ff" stroke-width="1.35"/>
<path d="M624.8 405.9L630.1 411.2L624.8 416.5L619.5 411.2Z" fill="none" stroke="#0000ff" stroke-width="1.35"/>
<path d="M623.7 413.7L629 419L623.7 424.3L618.4 419Z" fill="none" stroke="#0000ff" stroke-width="1.35"/>
<path d="M627 415.1L632.3 420.4L627 425.7L621.7 420.4Z" fill="none" stroke="#0000ff" stroke-width="1.35"/>
<path d="M625.9 420.4L631.2 425.7L625.9 431L620.6 425.7Z" fill="none" stroke="#0000ff" stroke-width="1.35"/>
<path d="M624.3 429.8L629.6 435.1L624.3 440.4L619 435.1Z" fill="none" stroke="#0000ff" stroke-width="1.35"/>
<path d="M628.2 429.8L633.5 435.1L628.2 440.4L622.9 435.1Z" fill="none" stroke="#0000ff" stroke-width="1.35"/>
<line x1="619.2" y1="423.8" x2="643.6" y2="423.8" stroke="#0000ff" stroke-width="1.6"/>
<line x1="637.6" y1="419.3" x2="637.6" y2="427.9" stroke="#0000ff" stroke-width="1.6"/>
<line x1="633.7" y1="419.3" x2="641.5" y2="419.3" stroke="#0000ff" stroke-width="1.6"/>
<line x1="633.7" y1="427.9" x2="641.5" y2="427.9" stroke="#0000ff" stroke-width="1.6"/>
<path d="M609.25 343.4L610.1 339.35A1.3 1.3 0 1 0 607.5 339.35L608.35 343.4ZM609.02 343.79L612.96 342.5A1.3 1.3 0 1 0 611.66 340.25L608.57 343.01ZM608.57 343.79L611.66 346.55A1.3 1.3 0 1 0 612.96 344.3L609.02 343.01ZM608.35 343.4L607.5 347.45A1.3 1.3 0 1 0 610.1 347.45L609.25 343.4ZM609.02 343.01L605.94 340.25A1.3 1.3 0 1 0 604.64 342.5L608.57 343.79ZM608.57 343.01L604.64 344.3A1.3 1.3 0 1 0 605.94 346.55L609.02 343.79Z" fill="#000"/>
<path d="M637.8 405.3L635.4 416.7M641.8 405.3L639.4 416.7M634.1 409.1L642.7 409.1M633.9 413.1L642.3 413.1" stroke="#000" stroke-width="1.35" fill="none"/>
<rect x="585.4" y="16.7" width="101.1" height="63.3" fill="#fff" stroke="#000" stroke-width="2"/>
<path d="M597.3 27.2L602.7 32.6L597.3 38L591.9 32.6Z" fill="none" stroke="#000" stroke-width="1.3"/>
<text x="607.6" y="37.9" font-size="15" text-anchor="start" fill="#000" stroke="#000" font-weight="normal" >Vehicle</text>
<path d="M597.3 42.7L602.7 48.1L597.3 53.5L591.9 48.1Z" fill="none" stroke="#ff0000" stroke-width="1.3"/>
<text x="607.6" y="53.4" font-size="15" text-anchor="start" fill="#ff0000" stroke="#ff0000" font-weight="normal" >Fe + PLAC</text>
<path d="M597.3 58.2L602.7 63.6L597.3 69L591.9 63.6Z" fill="none" stroke="#0000ff" stroke-width="1.3"/>
<text x="607.6" y="68.9" font-size="15" text-anchor="start" fill="#0000ff" stroke="#0000ff" font-weight="normal" >Fe + AML</text>
<text x="127.4" y="206" font-size="18.6" text-anchor="middle" fill="#000" stroke="#000" font-weight="normal" >Akt-T308</text>
<text x="356.8" y="206" font-size="18.6" text-anchor="middle" fill="#000" stroke="#000" font-weight="normal" >Akt-S473</text>
<text x="585.3" y="206" font-size="18.6" text-anchor="middle" fill="#000" stroke="#000" font-weight="normal" >AMPK</text>
<text x="29.8" y="229.6" font-size="16.5" text-anchor="end" fill="#000" stroke="#000" font-weight="normal" >p</text>
<text x="29.8" y="259.4" font-size="16.5" text-anchor="end" fill="#000" stroke="#000" font-weight="normal" >t</text>
<text x="261" y="230.9" font-size="16.5" text-anchor="end" fill="#000" stroke="#000" font-weight="normal" >p</text>
<text x="261" y="255" font-size="16.5" text-anchor="end" fill="#000" stroke="#000" font-weight="normal" >t</text>
<text x="492" y="229.6" font-size="16.5" text-anchor="end" fill="#000" stroke="#000" font-weight="normal" >p</text>
<text x="492" y="255.8" font-size="16.5" text-anchor="end" fill="#000" stroke="#000" font-weight="normal" >t</text>
<rect x="35.1" y="215.6" width="65.5" height="21" fill="url(#pg)"/>
<rect x="35.1" y="239.6" width="65.5" height="23.8" fill="url(#pg)"/>
<rect x="100.6" y="215.8" width="51.8" height="20.8" fill="url(#pg)"/>
<rect x="100.6" y="239.6" width="51.8" height="23.4" fill="url(#pg)"/>
<rect x="166.8" y="215.8" width="51.8" height="20.8" fill="url(#pg)"/>
<rect x="166.8" y="239.6" width="51.8" height="23.4" fill="url(#pg)"/>
<rect x="39.5" y="222.85" width="18.6" height="6.9" rx="2.4" fill="#000" fill-opacity="1.0" filter="url(#bl)"/>
<rect x="62.1" y="223.05" width="18.8" height="6.9" rx="2.4" fill="#000" fill-opacity="1.0" filter="url(#bl)"/>
<rect x="39.5" y="251.15" width="19" height="6.5" rx="2.4" fill="#000" fill-opacity="1.0" filter="url(#bl)"/>
<rect x="62.6" y="251.95" width="18.4" height="5.3" rx="2.4" fill="#000" fill-opacity="1.0" filter="url(#bl)"/>
<rect x="105.8" y="224.95" width="16.8" height="3.9" rx="1.95" fill="#000" fill-opacity="0.5" filter="url(#bl)"/>
<rect x="129.1" y="224.95" width="18.3" height="3.9" rx="1.95" fill="#000" fill-opacity="0.38" filter="url(#bl)"/>
<rect x="105.4" y="250.65" width="18" height="5.3" rx="2.4" fill="#000" fill-opacity="1.0" filter="url(#bl)"/>
<rect x="129.1" y="250.35" width="18.9" height="5.5" rx="2.4" fill="#000" fill-opacity="1.0" filter="url(#bl)"/>
<rect x="172.4" y="224.85" width="17.3" height="6.3" rx="2.4" fill="#000" fill-opacity="1.0" filter="url(#bl)"/>
<rect x="194.8" y="224.15" width="18.7" height="6.9" rx="2.4" fill="#000" fill-opacity="1.0" filter="url(#bl)"/>
<rect x="172.4" y="249.85" width="17.3" height="5.5" rx="2.4" fill="#000" fill-opacity="1.0" filter="url(#bl)"/>
<rect x="194.8" y="249.55" width="18.7" height="5.5" rx="2.4" fill="#000" fill-opacity="1.0" filter="url(#bl)"/>
<rect x="101.3" y="213.4" width="50.6" height="55.8" fill="none" stroke="#ff2020" stroke-width="1.8"/>
<rect x="167" y="213.4" width="50.7" height="55.8" fill="none" stroke="#2020ff" stroke-width="1.8"/>
<rect x="263.6" y="216.8" width="65.9" height="19.6" fill="url(#pg)"/>
<rect x="263.6" y="241.2" width="65.9" height="20.3" fill="url(#pg)"/>
<rect x="331.8" y="217.3" width="50.6" height="18.8" fill="url(#pg)"/>
<rect x="331.8" y="240.8" width="50.6" height="20.8" fill="url(#pg)"/>
<rect x="382.4" y="217.3" width="15.6" height="18.8" fill="#eeeeee"/>
<rect x="382.4" y="240.8" width="15.6" height="20.8" fill="#f0f0f0"/>
<rect x="398" y="217.3" width="50.7" height="18.8" fill="url(#pg)"/>
<rect x="398" y="240.8" width="50.7" height="20.8" fill="url(#pg)"/>
<rect x="269" y="226.45" width="17" height="4.1" rx="2.05" fill="#000" fill-opacity="1.0" filter="url(#bl)"/>
<rect x="292.7" y="226.25" width="17.7" height="4.3" rx="2.15" fill="#000" fill-opacity="1.0" filter="url(#bl)"/>
<rect x="267.9" y="246.15" width="19.2" height="5.9" rx="2.4" fill="#000" fill-opacity="1.0" filter="url(#bl)"/>
<rect x="291.9" y="246.75" width="19.2" height="5.5" rx="2.4" fill="#000" fill-opacity="1.0" filter="url(#bl)"/>
<rect x="336.8" y="226.95" width="15.5" height="3.3" rx="1.65" fill="#000" fill-opacity="0.9" filter="url(#bl)"/>
<rect x="360.7" y="226.95" width="16.1" height="3.3" rx="1.65" fill="#000" fill-opacity="0.7" filter="url(#bl)"/>
<rect x="336.2" y="248.05" width="17.2" height="4.7" rx="2.35" fill="#000" fill-opacity="1.0" filter="url(#bl)"/>
<rect x="360.3" y="248.05" width="17.7" height="4.7" rx="2.35" fill="#000" fill-opacity="1.0" filter="url(#bl)"/>
<rect x="402.8" y="225.35" width="16.7" height="4.5" rx="2.25" fill="#000" fill-opacity="1.0" filter="url(#bl)"/>
<rect x="427.3" y="224.75" width="17.1" height="3.7" rx="1.85" fill="#000" fill-opacity="0.85" filter="url(#bl)"/>
<rect x="402.2" y="247.85" width="18.6" height="5.9" rx="2.4" fill="#000" fill-opacity="1.0" filter="url(#bl)"/>
<rect x="426.4" y="247.85" width="19.1" height="5.9" rx="2.4" fill="#000" fill-opacity="1.0" filter="url(#bl)"/>
<rect x="331.5" y="213.3" width="50.8" height="56.6" fill="none" stroke="#ff2020" stroke-width="1.8"/>
<rect x="397.8" y="213.3" width="50.9" height="56.6" fill="none" stroke="#2020ff" stroke-width="1.8"/>
<rect x="494" y="214" width="182" height="23.4" fill="#e2e2e2"/>
<rect x="497.4" y="223.85" width="16.2" height="6.3" rx="2.4" fill="#000" fill-opacity="1.0" filter="url(#bl)"/>
<rect x="520.6" y="224.55" width="17.3" height="5.3" rx="2.4" fill="#000" fill-opacity="1.0" filter="url(#bl)"/>
<rect x="497.9" y="250.15" width="17.6" height="5.5" rx="2.4" fill="#000" fill-opacity="1.0" filter="url(#bl)"/>
<rect x="520.6" y="250.35" width="18.5" height="5.5" rx="2.4" fill="#000" fill-opacity="1.0" filter="url(#bl)"/>
<rect x="562.3" y="222.45" width="19.5" height="9.3" rx="2.4" fill="#000" fill-opacity="1.0" filter="url(#bl)"/>
<rect x="587.5" y="222.75" width="20.1" height="8.7" rx="2.4" fill="#000" fill-opacity="1.0" filter="url(#bl)"/>
<rect x="563.8" y="250.65" width="18.5" height="5.3" rx="2.4" fill="#000" fill-opacity="1.0" filter="url(#bl)"/>
<rect x="588.5" y="250.65" width="19.1" height="5.3" rx="2.4" fill="#000" fill-opacity="1.0" filter="url(#bl)"/>
<rect x="632.3" y="224.25" width="16.2" height="4.5" rx="2.25" fill="#000" fill-opacity="0.85" filter="url(#bl)"/>
<rect x="656.6" y="224.75" width="15.6" height="3.5" rx="1.75" fill="#000" fill-opacity="0.6" filter="url(#bl)"/>
<rect x="632.3" y="251.65" width="16.9" height="5.5" rx="2.4" fill="#000" fill-opacity="1.0" filter="url(#bl)"/>
<rect x="655.2" y="250.65" width="18" height="5.5" rx="2.4" fill="#000" fill-opacity="1.0" filter="url(#bl)"/>
<rect x="559.3" y="213.6" width="51.3" height="55.6" fill="none" stroke="#ff2020" stroke-width="1.8"/>
<rect x="625.8" y="213.6" width="51" height="55.6" fill="none" stroke="#2020ff" stroke-width="1.8"/>
</svg></body></html>
